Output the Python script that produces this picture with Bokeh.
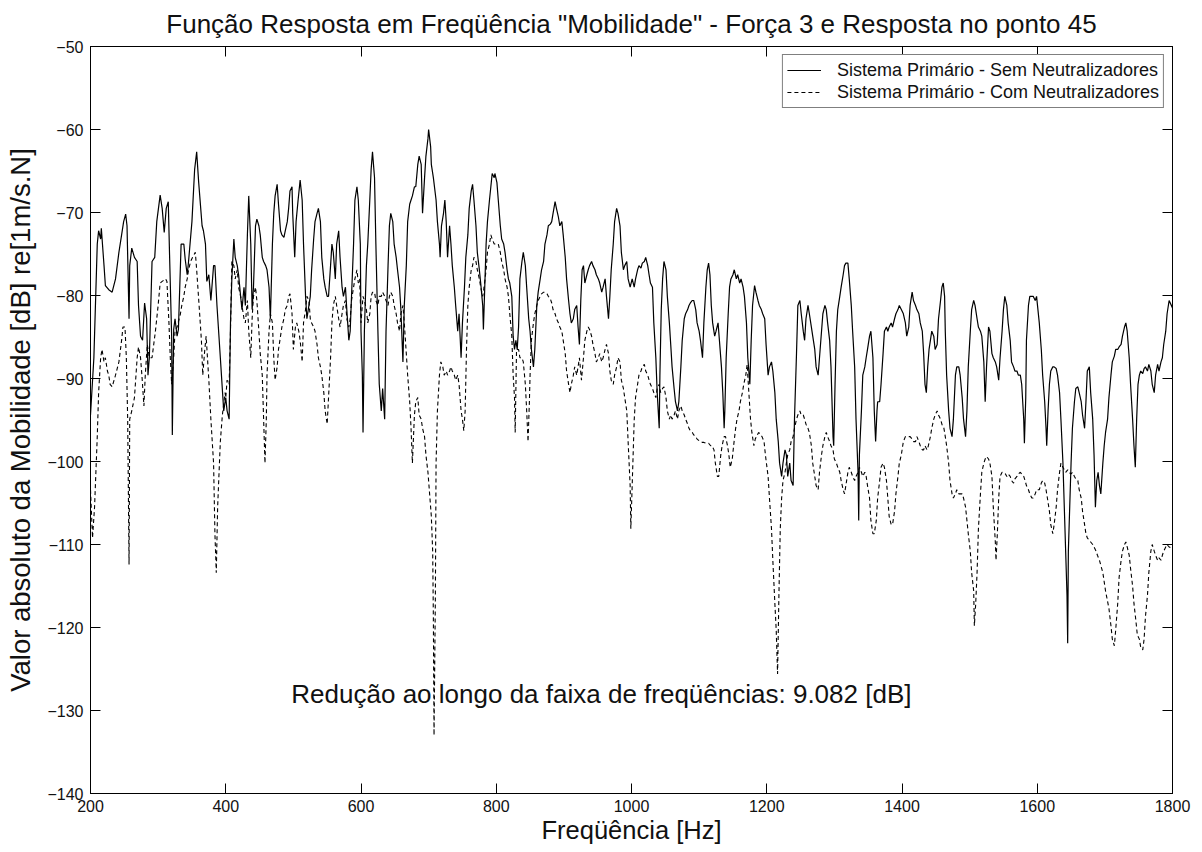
from bokeh.plotting import figure
from bokeh.models import (LinearAxis, Range1d, FixedTicker, Legend, LegendItem,
                          Label, CustomJSTickFormatter)
from bokeh.embed import file_html
from bokeh.resources import INLINE

TITLE = 'Função Resposta em Freqüência "Mobilidade" - Força 3 e Resposta no ponto 45'
X_LABEL = "Freqüência [Hz]"
Y_LABEL = "Valor absoluto da Mobilidade [dB] re[1m/s.N]"
SERIES_NAMES = ["Sistema Primário - Sem Neutralizadores",
                "Sistema Primário - Com Neutralizadores"]
NOTE = "Redução ao longo da faixa de freqüências: 9.082 [dB]"
NOTE_POS = (497, -128)
X_TICKS = [200, 400, 600, 800, 1000, 1200, 1400, 1600, 1800]
Y_TICKS = [-140, -130, -120, -110, -100, -90, -80, -70, -60, -50]

# Sistema primário - sem neutralizadores (solid)
sem_freq = [
    200, 205, 210, 212, 215, 216, 220, 222, 227, 232, 237, 242, 246, 249, 252, 254, 257, 258, 261, 265,
    269, 271, 274, 277, 280, 283, 285, 287, 291, 295, 298, 303, 306, 309, 312, 315, 317, 320, 321, 323,
    325, 328, 330, 334, 338, 340, 343, 345, 350, 354, 357, 360, 365, 367, 370, 372, 375, 378, 382, 384,
    387, 392, 397, 400, 402, 405, 407, 409, 412, 414, 417, 419, 422, 424, 427, 429, 432, 434, 437, 439,
    441, 444, 446, 449, 451, 454, 456, 459, 461, 464, 466, 469, 471, 473, 476, 478, 481, 483, 486, 488,
    491, 493, 495, 498, 499, 502, 504, 507, 510, 513, 515, 518, 520, 523, 525, 527, 530, 532, 535, 537,
    540, 542, 545, 547, 550, 552, 555, 557, 559, 562, 564, 567, 569, 572, 574, 577, 579, 582, 584, 586,
    589, 591, 594, 596, 599, 600, 602, 603, 605, 608, 610, 613, 615, 617, 620, 622, 625, 627, 630, 632,
    635, 637, 640, 642, 644, 647, 649, 652, 654, 657, 659, 662, 664, 667, 669, 672, 674, 676, 679, 681,
    684, 686, 689, 691, 694, 696, 699, 700, 703, 704, 707, 711, 713, 716, 717, 719, 722, 724, 726, 728,
    731, 733, 735, 738, 740, 743, 745, 748, 750, 753, 755, 758, 760, 763, 765, 767, 770, 772, 775, 777,
    780, 781, 783, 785, 787, 790, 792, 794, 797, 798, 801, 803, 806, 808, 811, 813, 816, 818, 820, 823,
    825, 827, 829, 831, 833, 835, 838, 840, 843, 845, 848, 850, 852, 855, 857, 860, 862, 865, 867, 870,
    872, 875, 877, 880, 882, 884, 887, 889, 892, 894, 897, 899, 902, 904, 907, 909, 911, 914, 916, 919,
    921, 923, 925, 927, 929, 931, 934, 936, 938, 941, 943, 946, 948, 951, 953, 956, 958, 961, 963, 966,
    968, 970, 973, 975, 978, 980, 983, 985, 988, 990, 993, 995, 998, 1001, 1004, 1006, 1009, 1011, 1014, 1016,
    1019, 1021, 1024, 1026, 1028, 1031, 1033, 1036, 1038, 1041, 1042, 1044, 1046, 1048, 1051, 1053, 1056, 1058, 1060, 1063,
    1065, 1068, 1070, 1073, 1075, 1078, 1080, 1083, 1085, 1087, 1090, 1092, 1095, 1097, 1100, 1102, 1105, 1107, 1110, 1112,
    1114, 1116, 1118, 1120, 1123, 1125, 1128, 1130, 1133, 1135, 1137, 1138, 1140, 1143, 1145, 1147, 1150, 1152, 1155, 1157,
    1160, 1162, 1165, 1167, 1170, 1172, 1175, 1177, 1179, 1182, 1184, 1187, 1189, 1192, 1194, 1197, 1199, 1202, 1204, 1207,
    1209, 1212, 1214, 1217, 1219, 1222, 1224, 1227, 1229, 1231, 1234, 1236, 1239, 1241, 1244, 1246, 1249, 1251, 1254, 1256,
    1258, 1261, 1263, 1266, 1268, 1271, 1273, 1276, 1278, 1281, 1283, 1286, 1288, 1290, 1293, 1295, 1298, 1299, 1301, 1303,
    1305, 1308, 1310, 1313, 1315, 1317, 1320, 1322, 1325, 1327, 1330, 1332, 1335, 1336, 1337, 1340, 1342, 1345, 1347, 1349,
    1352, 1354, 1357, 1359, 1361, 1363, 1364, 1367, 1369, 1372, 1374, 1377, 1379, 1381, 1384, 1386, 1389, 1391, 1394, 1396,
    1399, 1402, 1405, 1407, 1410, 1412, 1415, 1417, 1420, 1422, 1425, 1427, 1430, 1432, 1434, 1436, 1438, 1440, 1442, 1444,
    1447, 1449, 1452, 1454, 1457, 1459, 1461, 1463, 1464, 1466, 1469, 1471, 1474, 1476, 1479, 1481, 1484, 1486, 1489, 1491,
    1494, 1496, 1498, 1501, 1503, 1506, 1508, 1511, 1513, 1516, 1518, 1521, 1523, 1525, 1528, 1530, 1533, 1535, 1538, 1540,
    1543, 1545, 1548, 1550, 1552, 1555, 1557, 1560, 1562, 1565, 1567, 1570, 1572, 1575, 1577, 1580, 1581, 1583, 1584, 1587,
    1589, 1592, 1594, 1597, 1599, 1603, 1606, 1608, 1611, 1613, 1614, 1616, 1618, 1620, 1623, 1625, 1628, 1630, 1633, 1635,
    1638, 1640, 1642, 1644, 1645, 1646, 1648, 1650, 1652, 1655, 1657, 1660, 1662, 1665, 1667, 1670, 1672, 1674, 1677, 1679,
    1682, 1684, 1686, 1688, 1690, 1692, 1694, 1697, 1699, 1701, 1704, 1706, 1709, 1711, 1714, 1716, 1719, 1721, 1724, 1726,
    1729, 1731, 1733, 1736, 1738, 1741, 1743, 1745, 1747, 1749, 1751, 1753, 1756, 1758, 1760, 1763, 1765, 1768, 1770, 1773,
    1775, 1778, 1780, 1783, 1785, 1787, 1790, 1792, 1795, 1800,
]
sem_db = [
    -94.4, -87.5, -73.8, -72.2, -73.2, -71.9, -76.4, -78.8, -79.3, -79.6, -78.0, -74.8, -72.7, -71.1, -70.2, -71.6, -82.8, -76.4, -74.3, -75.4,
    -75.9, -81.2, -84.9, -85.4, -80.9, -82.8, -89.6, -87.5, -75.9, -75.4, -71.1, -67.9, -69.5, -72.4, -69.5, -68.7, -75.4, -84.9, -96.8, -84.1,
    -82.8, -84.9, -84.1, -73.8, -73.8, -75.6, -77.5, -75.9, -71.1, -64.8, -62.7, -66.4, -71.6, -72.2, -73.8, -78.3, -77.5, -80.6, -76.4, -76.4,
    -81.2, -87.5, -93.9, -92.3, -93.9, -94.9, -83.3, -78.0, -73.2, -75.4, -76.4, -77.5, -80.1, -81.7, -79.0, -81.2, -72.7, -68.0, -73.8, -81.7,
    -79.0, -71.6, -70.8, -71.6, -72.7, -75.4, -75.9, -76.4, -76.9, -79.0, -82.8, -73.8, -70.1, -68.0, -66.6, -69.0, -72.2, -72.7, -73.0, -72.2,
    -71.1, -69.5, -67.4, -66.9, -70.1, -75.4, -71.1, -68.5, -66.1, -68.5, -73.8, -80.1, -82.8, -81.2, -80.1, -76.9, -73.2, -71.1, -70.1, -69.5,
    -71.1, -75.4, -78.0, -79.0, -80.1, -80.1, -76.4, -73.8, -74.8, -78.0, -73.8, -72.2, -75.4, -79.0, -80.1, -79.0, -81.7, -85.4, -84.3, -80.1,
    -73.8, -68.5, -66.9, -68.5, -73.8, -84.3, -89.6, -96.5, -84.3, -76.4, -73.8, -68.5, -64.8, -62.7, -65.8, -73.8, -84.3, -90.7, -93.9, -91.2,
    -94.9, -84.3, -76.4, -71.6, -70.1, -71.1, -73.8, -75.4, -76.9, -79.0, -81.7, -88.0, -81.2, -76.4, -71.1, -69.0, -68.5, -68.0, -66.9, -66.9,
    -64.2, -63.2, -64.2, -70.1, -65.8, -63.2, -61.1, -60.0, -62.1, -64.2, -65.8, -68.5, -71.1, -73.8, -75.4, -71.6, -70.1, -68.5, -71.1, -75.4,
    -71.6, -73.8, -76.4, -79.0, -81.2, -84.3, -82.2, -87.5, -83.3, -79.0, -75.4, -72.7, -69.5, -67.4, -66.6, -68.5, -71.6, -74.8, -76.9, -78.5,
    -81.2, -84.1, -79.0, -73.8, -71.1, -68.5, -66.9, -65.3, -65.8, -65.3, -66.4, -68.5, -71.6, -73.2, -73.8, -74.8, -76.9, -78.0, -78.5, -80.1,
    -84.9, -86.5, -85.4, -86.5, -83.8, -78.0, -75.9, -74.8, -76.4, -79.0, -82.8, -84.3, -86.5, -88.6, -86.5, -81.2, -79.6, -78.0, -76.9, -75.9,
    -73.8, -72.7, -71.6, -71.4, -71.1, -70.1, -68.7, -69.5, -70.6, -71.6, -71.1, -72.7, -75.4, -78.0, -80.6, -82.2, -83.3, -82.8, -81.7, -81.2,
    -83.8, -85.9, -80.6, -76.9, -76.4, -78.5, -77.5, -76.9, -76.4, -75.9, -76.4, -76.9, -77.5, -78.0, -78.5, -79.6, -79.0, -78.0, -80.1, -82.8,
    -80.1, -76.9, -73.8, -71.1, -69.5, -70.1, -71.6, -74.8, -76.9, -76.4, -75.9, -78.0, -79.0, -78.0, -79.0, -78.0, -76.9, -76.4, -76.7, -76.1,
    -75.9, -75.4, -76.4, -77.5, -78.5, -79.0, -83.3, -87.5, -91.7, -96.0, -89.6, -81.7, -78.0, -75.9, -76.9, -80.1, -83.3, -85.9, -88.6, -91.2,
    -92.8, -93.9, -92.8, -88.6, -85.4, -82.8, -82.2, -81.7, -81.2, -80.9, -80.6, -80.6, -81.7, -83.3, -84.3, -85.4, -87.5, -83.3, -79.0, -76.9,
    -76.1, -77.5, -81.2, -83.3, -84.9, -84.3, -83.3, -85.4, -88.6, -91.7, -96.0, -93.9, -87.5, -82.2, -79.0, -78.0, -77.5, -76.9, -78.0, -77.5,
    -78.5, -78.0, -79.0, -80.1, -83.3, -87.5, -90.7, -85.4, -81.2, -78.8, -79.6, -80.6, -81.2, -81.7, -82.2, -82.8, -85.9, -89.6, -88.6, -88.0,
    -89.1, -91.7, -94.9, -97.6, -100.2, -101.8, -100.2, -98.6, -99.2, -101.8, -100.2, -102.3, -102.9, -94.9, -87.0, -81.2, -80.6, -82.2, -84.3, -85.4,
    -82.8, -81.2, -82.2, -83.8, -84.9, -86.5, -88.6, -89.6, -87.5, -84.3, -82.2, -81.2, -81.7, -83.3, -85.4, -88.6, -97.0, -98.1, -90.7, -84.3,
    -81.7, -80.1, -79.0, -77.5, -76.4, -76.1, -76.1, -78.0, -81.2, -84.3, -88.6, -94.9, -101.3, -107.1, -99.2, -93.9, -89.6, -88.6, -87.5, -86.5,
    -84.9, -84.3, -87.5, -93.9, -97.6, -93.9, -92.8, -92.8, -90.7, -87.0, -84.3, -83.8, -84.3, -83.8, -83.3, -83.8, -82.8, -82.2, -81.7, -81.2,
    -81.7, -82.2, -83.3, -84.9, -83.8, -81.2, -79.6, -80.6, -81.2, -81.7, -82.2, -83.3, -84.3, -87.0, -90.7, -91.7, -88.6, -86.5, -85.4, -84.3,
    -84.9, -86.5, -85.9, -82.8, -80.6, -79.0, -78.5, -80.1, -84.3, -89.6, -93.9, -96.0, -97.0, -94.9, -89.6, -88.6, -88.6, -89.6, -92.3, -94.9,
    -97.0, -93.9, -88.6, -84.3, -81.7, -80.6, -81.2, -82.8, -83.8, -84.3, -84.9, -88.0, -92.8, -88.6, -83.8, -84.3, -87.0, -87.5, -88.0, -88.6,
    -90.2, -87.5, -84.3, -81.7, -80.1, -81.2, -83.3, -85.4, -88.0, -88.6, -89.1, -89.1, -89.6, -89.6, -90.7, -94.9, -97.8, -92.3, -85.4, -81.2,
    -80.1, -80.1, -80.1, -80.6, -80.1, -83.3, -86.5, -89.6, -92.8, -96.0, -98.1, -93.9, -90.7, -89.1, -88.6, -88.6, -88.8, -89.6, -91.7, -94.9,
    -100.2, -105.5, -110.8, -116.1, -121.9, -110.8, -105.5, -100.2, -96.0, -92.8, -91.2, -91.0, -91.7, -92.8, -94.4, -96.0, -92.8, -89.1, -88.6, -91.7,
    -94.9, -99.2, -105.5, -102.3, -101.3, -102.9, -103.9, -100.2, -98.1, -96.5, -94.9, -92.3, -89.6, -88.0, -87.3, -86.5, -86.5, -86.2, -85.9, -84.9,
    -83.8, -83.3, -84.3, -87.5, -90.7, -94.9, -98.1, -100.7, -94.9, -90.7, -89.6, -89.1, -89.4, -88.8, -88.6, -89.1, -88.3, -89.1, -90.7, -91.7,
    -89.6, -88.3, -89.1, -88.0, -87.5, -85.9, -84.3, -82.2, -80.6, -81.5,
]

# Sistema primário - com neutralizadores (dashed)
com_freq = [
    200, 203, 206, 210, 212, 215, 217, 220, 222, 225, 227, 229, 232, 237, 242, 246, 248, 251, 253, 255,
    257, 258, 261, 265, 269, 271, 274, 276, 279, 281, 284, 287, 291, 296, 300, 303, 306, 311, 313, 316,
    318, 320, 323, 325, 328, 333, 335, 338, 340, 343, 345, 348, 351, 355, 357, 361, 364, 366, 369, 371,
    375, 378, 382, 384, 386, 388, 392, 395, 399, 400, 402, 405, 407, 409, 412, 414, 417, 419, 422, 424,
    427, 429, 432, 434, 437, 439, 441, 444, 446, 449, 451, 454, 456, 458, 460, 461, 464, 466, 469, 471,
    473, 476, 478, 481, 483, 486, 488, 491, 493, 495, 498, 500, 503, 505, 508, 510, 513, 515, 518, 520,
    523, 525, 527, 530, 532, 535, 537, 540, 542, 545, 547, 550, 552, 555, 557, 559, 562, 564, 567, 569,
    572, 574, 577, 579, 582, 584, 586, 589, 591, 594, 596, 598, 600, 603, 605, 608, 610, 613, 615, 617,
    620, 622, 625, 627, 630, 632, 635, 637, 640, 642, 644, 647, 649, 652, 654, 657, 659, 662, 664, 667,
    669, 672, 674, 676, 679, 681, 684, 686, 689, 691, 694, 696, 699, 701, 704, 706, 707, 708, 710, 711,
    713, 716, 718, 721, 723, 726, 728, 731, 733, 735, 738, 740, 743, 745, 748, 750, 752, 754, 756, 758,
    760, 763, 765, 767, 770, 772, 775, 777, 780, 782, 785, 787, 790, 792, 794, 797, 803, 806, 808, 811,
    813, 816, 818, 820, 823, 825, 827, 828, 830, 833, 835, 838, 840, 843, 845, 847, 849, 850, 852, 855,
    857, 860, 862, 865, 867, 870, 872, 875, 877, 880, 882, 884, 887, 889, 892, 894, 897, 899, 902, 904,
    907, 909, 911, 914, 916, 919, 921, 923, 926, 929, 931, 934, 936, 938, 941, 943, 946, 948, 951, 953,
    956, 958, 961, 963, 966, 968, 970, 973, 975, 978, 980, 983, 985, 988, 990, 993, 995, 998, 999, 1001,
    1004, 1006, 1009, 1011, 1014, 1016, 1019, 1021, 1024, 1026, 1028, 1031, 1033, 1036, 1038, 1041, 1043, 1046, 1048, 1051,
    1053, 1056, 1058, 1060, 1063, 1065, 1068, 1070, 1073, 1075, 1078, 1080, 1083, 1085, 1087, 1090, 1092, 1095, 1097, 1100,
    1102, 1105, 1107, 1110, 1112, 1114, 1117, 1119, 1122, 1124, 1127, 1129, 1132, 1134, 1137, 1139, 1142, 1144, 1146, 1149,
    1151, 1154, 1156, 1159, 1161, 1164, 1166, 1169, 1171, 1174, 1176, 1178, 1181, 1183, 1186, 1188, 1191, 1193, 1196, 1198,
    1202, 1204, 1207, 1209, 1212, 1214, 1216, 1218, 1220, 1222, 1224, 1227, 1229, 1231, 1234, 1236, 1239, 1241, 1244, 1246,
    1249, 1251, 1254, 1256, 1258, 1261, 1263, 1266, 1268, 1271, 1273, 1276, 1278, 1281, 1283, 1286, 1288, 1290, 1293, 1295,
    1298, 1300, 1303, 1305, 1308, 1310, 1313, 1315, 1317, 1320, 1322, 1325, 1327, 1330, 1332, 1335, 1337, 1340, 1342, 1345,
    1347, 1349, 1352, 1354, 1357, 1359, 1362, 1364, 1367, 1369, 1372, 1374, 1377, 1379, 1381, 1384, 1386, 1389, 1391, 1394,
    1396, 1399, 1402, 1405, 1407, 1410, 1412, 1415, 1417, 1420, 1422, 1425, 1427, 1430, 1432, 1434, 1437, 1439, 1442, 1444,
    1447, 1449, 1452, 1454, 1457, 1459, 1462, 1464, 1466, 1469, 1471, 1474, 1476, 1479, 1481, 1484, 1486, 1489, 1491, 1494,
    1496, 1498, 1501, 1503, 1506, 1507, 1509, 1511, 1513, 1516, 1518, 1521, 1523, 1525, 1528, 1530, 1533, 1535, 1538, 1539,
    1541, 1543, 1545, 1548, 1550, 1553, 1555, 1557, 1560, 1562, 1565, 1567, 1570, 1572, 1575, 1577, 1580, 1582, 1584, 1587,
    1589, 1592, 1594, 1597, 1599, 1603, 1606, 1608, 1611, 1613, 1615, 1618, 1620, 1623, 1625, 1628, 1630, 1633, 1635, 1638,
    1640, 1642, 1645, 1647, 1650, 1652, 1655, 1657, 1660, 1662, 1665, 1667, 1670, 1672, 1674, 1677, 1679, 1682, 1684, 1687,
    1689, 1692, 1697, 1701, 1706, 1709, 1711, 1714, 1716, 1719, 1721, 1724, 1726, 1729, 1731, 1733, 1736, 1738, 1741, 1743,
    1746, 1748, 1751, 1753, 1756, 1758, 1760, 1763, 1765, 1768, 1770, 1773, 1775, 1778, 1780, 1783, 1785, 1787, 1790, 1792,
    1795, 1800,
]
com_db = [
    -103.4, -109.2, -105.5, -97.0, -91.7, -87.5, -86.5, -88.0, -87.5, -89.1, -89.6, -90.7, -91.0, -89.6, -88.0, -85.4, -83.8, -83.8, -87.5, -94.9,
    -112.4, -94.9, -93.9, -92.3, -87.5, -86.2, -87.5, -89.6, -93.3, -89.6, -85.9, -87.5, -87.5, -84.3, -81.2, -78.5, -78.3, -78.0, -78.3, -83.3,
    -87.5, -90.7, -87.5, -84.3, -83.8, -82.2, -81.2, -80.1, -79.0, -78.0, -76.9, -75.9, -75.4, -74.8, -76.9, -81.7, -85.4, -89.6, -86.5, -84.9,
    -90.2, -94.9, -100.2, -108.7, -113.4, -105.5, -97.6, -94.4, -91.7, -92.3, -90.2, -90.7, -84.3, -75.9, -76.4, -78.0, -76.9, -79.0, -80.1, -81.2,
    -82.8, -83.3, -80.6, -84.3, -87.5, -82.8, -80.1, -79.0, -80.6, -84.3, -87.0, -89.6, -94.9, -100.2, -94.9, -89.6, -84.3, -82.2, -83.3, -87.5,
    -90.2, -88.6, -86.5, -84.9, -83.8, -82.8, -81.7, -81.2, -80.1, -79.8, -82.2, -86.5, -83.8, -83.3, -84.3, -85.4, -88.0, -83.3, -81.7, -80.1,
    -80.6, -82.8, -83.3, -83.8, -84.3, -85.9, -87.5, -88.6, -89.6, -91.7, -93.9, -95.5, -92.3, -87.5, -83.3, -81.2, -80.1, -81.2, -82.8, -83.8,
    -82.2, -81.2, -80.6, -82.8, -83.8, -82.8, -80.6, -79.0, -78.0, -76.9, -78.5, -78.0, -83.3, -80.1, -80.6, -81.7, -83.3, -82.2, -80.1, -79.6,
    -79.6, -80.6, -81.2, -80.1, -80.1, -79.6, -80.1, -80.6, -81.2, -80.1, -79.6, -80.1, -81.2, -82.2, -83.3, -84.3, -82.2, -81.2, -83.3, -87.0,
    -89.6, -92.8, -96.0, -100.2, -94.4, -92.8, -92.3, -94.4, -94.9, -96.0, -97.0, -99.2, -101.3, -103.4, -106.6, -110.8, -118.7, -133.0, -116.1, -100.2,
    -93.9, -89.6, -88.0, -88.6, -89.6, -89.1, -89.6, -89.1, -88.6, -89.1, -89.6, -90.2, -89.6, -90.7, -93.9, -94.9, -96.3, -93.9, -86.5, -81.2,
    -79.0, -76.9, -76.4, -75.4, -75.9, -76.9, -78.0, -79.0, -80.1, -79.0, -76.9, -74.8, -73.8, -72.7, -73.2, -73.8, -73.8, -74.8, -75.9, -76.9,
    -78.0, -79.0, -80.1, -82.2, -84.9, -89.6, -92.3, -96.5, -86.5, -86.5, -87.5, -87.5, -88.0, -90.7, -93.9, -97.6, -92.8, -89.6, -85.4, -83.3,
    -82.2, -81.2, -80.6, -80.1, -79.8, -79.6, -79.6, -79.8, -80.1, -80.4, -80.9, -81.7, -82.2, -82.8, -83.3, -83.8, -84.3, -85.4, -87.0, -89.1,
    -90.7, -91.7, -90.7, -89.6, -88.6, -89.6, -88.6, -87.5, -90.2, -87.5, -85.4, -84.3, -83.8, -84.1, -84.9, -85.9, -87.0, -88.0, -87.5, -87.0,
    -88.0, -87.5, -86.5, -85.9, -87.0, -89.1, -90.2, -90.7, -89.6, -88.6, -87.5, -88.0, -90.2, -91.2, -92.3, -93.9, -97.6, -102.9, -108.1, -102.9,
    -95.0, -92.3, -90.7, -89.6, -89.1, -88.6, -88.3, -89.1, -89.6, -90.2, -90.7, -91.2, -91.7, -92.3, -91.2, -90.7, -91.7, -91.2, -91.0, -92.3,
    -93.9, -94.9, -94.4, -94.9, -94.4, -93.9, -94.9, -93.9, -93.3, -93.9, -94.4, -94.9, -95.5, -96.0, -96.3, -96.5, -96.8, -97.0, -97.3, -97.5,
    -97.6, -97.7, -97.7, -97.8, -97.8, -97.8, -98.1, -98.1, -98.6, -100.2, -101.8, -101.8, -99.2, -98.1, -97.0, -97.0, -98.1, -99.2, -100.7, -99.7,
    -98.1, -96.0, -94.9, -93.9, -92.8, -91.7, -90.7, -89.6, -88.3, -92.3, -94.9, -96.5, -98.1, -97.3, -96.8, -96.5, -96.8, -97.0, -97.6, -99.2,
    -101.8, -104.4, -108.1, -111.9, -117.1, -120.3, -125.6, -116.1, -108.1, -104.4, -102.3, -101.3, -100.2, -99.2, -98.6, -97.6, -97.0, -96.0, -94.9, -94.4,
    -93.9, -94.4, -94.4, -94.9, -95.5, -96.0, -96.5, -98.1, -100.2, -101.8, -102.9, -103.4, -101.3, -99.2, -98.1, -97.0, -96.5, -97.0, -97.6, -98.1,
    -98.6, -99.7, -100.2, -100.7, -101.3, -102.3, -103.4, -103.9, -102.9, -101.3, -100.7, -101.3, -101.8, -102.3, -101.8, -101.3, -100.7, -101.3, -101.8, -101.3,
    -101.8, -102.9, -104.4, -107.1, -108.7, -108.7, -107.1, -104.4, -102.3, -100.7, -100.2, -100.7, -102.3, -104.4, -106.6, -107.6, -107.6, -106.0, -103.9, -101.8,
    -100.2, -99.2, -97.6, -97.0, -97.0, -97.0, -97.0, -97.3, -97.6, -97.6, -97.0, -97.6, -98.1, -98.6, -98.6, -98.1, -98.6, -98.1, -97.0, -96.0,
    -94.9, -94.4, -93.9, -94.4, -94.9, -95.5, -96.0, -97.0, -98.1, -100.2, -102.3, -103.9, -104.4, -103.9, -103.4, -103.9, -103.9, -103.9, -104.4, -105.5,
    -107.1, -108.7, -110.8, -113.4, -115.6, -119.8, -117.1, -113.4, -108.1, -103.9, -101.3, -100.2, -99.7, -99.4, -99.7, -100.2, -101.8, -105.5, -109.7, -111.9,
    -108.7, -104.4, -101.8, -101.3, -101.3, -101.5, -101.8, -101.5, -101.8, -102.3, -102.6, -102.1, -101.8, -101.5, -101.3, -101.5, -101.8, -102.3, -102.9, -103.4,
    -103.9, -104.4, -104.4, -103.9, -103.4, -103.4, -102.6, -102.3, -102.6, -103.4, -104.4, -106.0, -107.6, -108.7, -107.6, -105.5, -103.4, -101.3, -100.2, -100.7,
    -101.0, -101.3, -101.0, -101.3, -101.5, -101.3, -101.8, -102.1, -102.3, -103.4, -104.4, -106.0, -107.6, -108.7, -109.2, -109.5, -109.7, -110.0, -110.3, -110.8,
    -111.3, -111.9, -113.4, -115.6, -117.7, -119.8, -121.4, -122.2, -120.3, -117.1, -114.0, -111.9, -110.8, -110.0, -109.7, -110.3, -111.3, -112.9, -115.0, -117.1,
    -119.3, -120.9, -121.4, -122.4, -122.7, -121.4, -118.7, -116.1, -113.4, -110.8, -110.0, -110.8, -111.3, -111.9, -111.6, -111.9, -111.3, -110.8, -110.3, -110.0,
    -110.3, -110.5,
]

FONT = "Liberation Sans"
TXT = "#111111"

p = figure(width=1194, height=850,
           x_range=Range1d(X_TICKS[0], X_TICKS[-1]),
           y_range=Range1d(Y_TICKS[0], Y_TICKS[-1]),
           output_backend="svg", toolbar_location=None,
           min_border_left=90, min_border_right=22,
           min_border_top=46, min_border_bottom=57,
           title=TITLE)

p.background_fill_color = "white"
p.border_fill_color = "white"
p.outline_line_color = "black"
p.outline_line_width = 1
p.xgrid.visible = False
p.ygrid.visible = False

p.title.align = "center"
p.title.vertical_align = "top"
p.title.text_font = FONT
p.title.text_font_size = "26px"
p.title.text_font_style = "normal"
p.title.text_color = TXT
p.title.standoff = 12

def style_axis(ax, ticks):
    ax.ticker = FixedTicker(ticks=ticks)
    ax.major_tick_in = 10
    ax.major_tick_out = 0
    ax.minor_tick_line_color = None
    ax.axis_line_color = "black"
    ax.major_tick_line_color = "black"
    ax.major_label_text_font = FONT
    ax.major_label_text_font_size = "16px"
    ax.major_label_text_color = TXT
    ax.axis_label_text_font = FONT
    ax.axis_label_text_font_style = "normal"
    ax.axis_label_text_color = TXT

xa = p.xaxis[0]
style_axis(xa, X_TICKS)
xa.axis_label = X_LABEL
xa.axis_label_text_font_size = "25.5px"
xa.major_label_standoff = 6
xa.axis_label_standoff = 1

ya = p.yaxis[0]
style_axis(ya, Y_TICKS)
ya.major_label_standoff = 7
ya.axis_label = Y_LABEL
ya.axis_label_text_font_size = "27.5px"
ya.axis_label_standoff = 8

blank = CustomJSTickFormatter(code="return ''")
top = LinearAxis(formatter=blank)
style_axis(top, X_TICKS)
top.major_label_text_font_size = "1px"
top.major_label_standoff = 0
p.add_layout(top, "above")

right = LinearAxis(formatter=blank)
style_axis(right, Y_TICKS)
right.major_label_text_font_size = "1px"
right.major_label_standoff = 0
p.add_layout(right, "right")

r_sem = p.line(sem_freq, sem_db, line_color="black", line_width=1.2)
r_com = p.line(com_freq, com_db, line_color="black", line_width=1.1, line_dash="4 3")

legend = Legend(items=[LegendItem(label=SERIES_NAMES[0], renderers=[r_sem]),
                       LegendItem(label=SERIES_NAMES[1], renderers=[r_com])],
                location="top_right")
legend.margin = 8
legend.padding = 4
legend.spacing = 0
legend.glyph_width = 34
legend.glyph_height = 22
legend.label_height = 22
legend.label_standoff = 16
legend.label_text_font = FONT
legend.label_text_font_size = "18px"
legend.label_text_color = TXT
legend.border_line_color = "black"
legend.border_line_width = 1
legend.background_fill_color = "white"
legend.background_fill_alpha = 1
p.add_layout(legend)

note = Label(x=NOTE_POS[0], y=NOTE_POS[1], text=NOTE, text_font=FONT,
             text_font_size="26px", text_color=TXT, text_baseline="middle",
             text_align="left")
p.add_layout(note)

open("out.html", "w").write(file_html(p, INLINE))
